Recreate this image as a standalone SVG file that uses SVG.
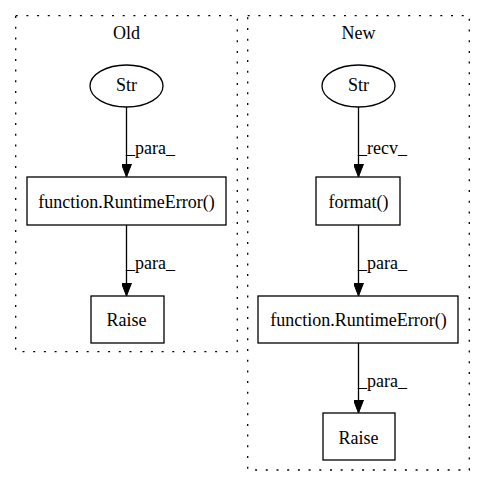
<svg xmlns="http://www.w3.org/2000/svg" width="485" height="488" viewBox="0 0 485 488">
<style>
text{font-family:"Liberation Serif","Times New Roman",serif;font-size:18px;fill:#000;text-anchor:middle}
.lbl{text-anchor:start}
.cl{fill:none;stroke:#000;stroke-width:1.3;stroke-dasharray:2,8.7}
.nd{fill:#fff;stroke:#000;stroke-width:1.3}
.ed{stroke:#000;stroke-width:1.3;fill:none}
</style>
<defs>
<marker id="ah" markerWidth="14" markerHeight="10" refX="13" refY="5" orient="auto" markerUnits="userSpaceOnUse">
<polygon points="0,0 13,5 0,10" fill="#000" stroke="#000" stroke-width="1"/>
</marker>
</defs>
<rect width="485" height="488" fill="#fff"/>
<g id="cluster_old">
<rect class="cl" x="15.7" y="15.7" width="221.6" height="336"/>
<text x="126.5" y="39">Old</text>
</g>
<g id="cluster_new">
<rect class="cl" x="247.7" y="15.7" width="221.6" height="454.3"/>
<text x="358.5" y="39">New</text>
</g>
<g id="edges">
<path class="ed" d="M126.5,107 L126.5,177" marker-end="url(#ah)"/>
<text class="lbl" x="126" y="154">_para_</text>
<path class="ed" d="M126.5,225 L126.5,296" marker-end="url(#ah)"/>
<text class="lbl" x="126" y="269">_para_</text>
<path class="ed" d="M358.5,107 L358.5,177" marker-end="url(#ah)"/>
<text class="lbl" x="358" y="154">_recv_</text>
<path class="ed" d="M358.5,225 L358.5,296" marker-end="url(#ah)"/>
<text class="lbl" x="358" y="269">_para_</text>
<path class="ed" d="M358.5,343 L358.5,413" marker-end="url(#ah)"/>
<text class="lbl" x="358" y="387">_para_</text>
</g>
<g id="old_str">
<ellipse class="nd" cx="126.5" cy="86" rx="36.5" ry="21"/>
<text x="126.5" y="91">Str</text>
</g>
<g id="old_runtimeerror">
<rect class="nd" x="27" y="177" width="199" height="48"/>
<text x="126.5" y="208">function.RuntimeError()</text>
</g>
<g id="old_raise">
<rect class="nd" x="91" y="296" width="73" height="47"/>
<text x="126.5" y="326">Raise</text>
</g>
<g id="new_str">
<ellipse class="nd" cx="358.5" cy="86" rx="36.5" ry="21"/>
<text x="358.5" y="91">Str</text>
</g>
<g id="new_format">
<rect class="nd" x="316" y="177" width="84" height="48"/>
<text x="358.5" y="208">format()</text>
</g>
<g id="new_runtimeerror">
<rect class="nd" x="258" y="296" width="200" height="47"/>
<text x="358.5" y="326">function.RuntimeError()</text>
</g>
<g id="new_raise">
<rect class="nd" x="323" y="413" width="72" height="47"/>
<text x="358.5" y="444">Raise</text>
</g>
</svg>
